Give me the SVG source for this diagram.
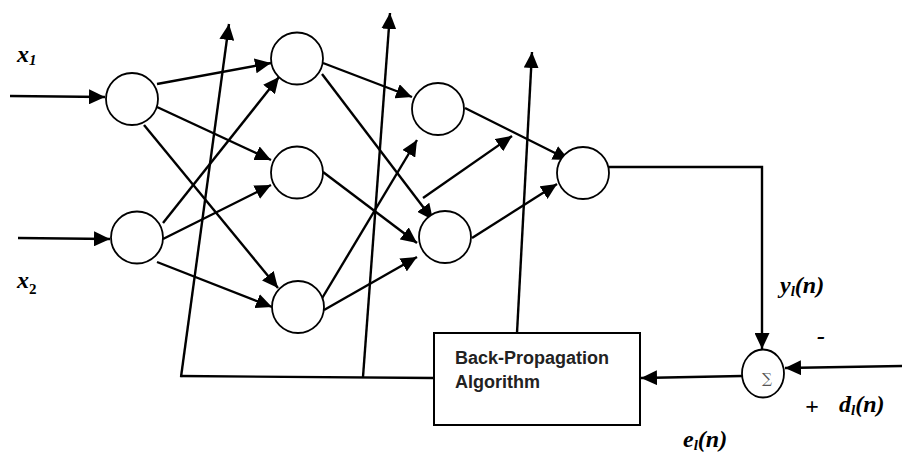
<svg xmlns="http://www.w3.org/2000/svg" width="902" height="452" viewBox="0 0 902 452">
  <style>
    .node { fill: #fff; stroke: #000; stroke-width: 1.8; }
    .edge { fill: none; stroke: #000; stroke-width: 2.4; }
    .lbl { font-family: "Liberation Serif", "Times New Roman", serif; font-weight: bold; font-style: italic; font-size: 24px; fill: #000; }
    .sub { font-size: 15px; }
    .box { fill: #fff; stroke: #000; stroke-width: 2; }
    .boxtxt { font-family: "Liberation Sans", Arial, sans-serif; font-weight: bold; font-size: 18px; fill: #222; }
  </style>
  <defs>
    <marker id="arrow" markerUnits="userSpaceOnUse" markerWidth="16" markerHeight="15" refX="16" refY="7.5" orient="auto">
      <path d="M0,0 L16,7.5 L0,15 z" fill="#000"/>
    </marker>
  </defs>

  <rect width="902" height="452" fill="#fff"/>

  <!-- connectors -->
  <g id="connectors" class="edge" marker-end="url(#arrow)">
    <!-- inputs -->
    <line x1="10" y1="96" x2="105" y2="97"/>
    <line x1="18" y1="238" x2="110" y2="239"/>
    <!-- input layer to first hidden layer -->
    <line x1="157" y1="84" x2="271" y2="63"/>
    <line x1="157" y1="107" x2="271" y2="160"/>
    <line x1="144" y1="125" x2="278" y2="288"/>
    <line x1="163" y1="223" x2="279" y2="77"/>
    <line x1="163" y1="239" x2="271" y2="185"/>
    <line x1="157" y1="262" x2="272" y2="307"/>
    <!-- first hidden layer to second hidden layer -->
    <line x1="323" y1="63" x2="412" y2="97"/>
    <line x1="322" y1="74" x2="433" y2="220"/>
    <line x1="323" y1="172" x2="417" y2="243"/>
    <line x1="321" y1="300" x2="417" y2="140"/>
    <line x1="324" y1="310" x2="417" y2="257"/>
    <!-- second hidden layer to output -->
    <line x1="465" y1="108" x2="569" y2="160"/>
    <line x1="472" y1="238" x2="557" y2="184"/>
    <line x1="423" y1="198" x2="512" y2="136"/>
    <!-- output to summing junction -->
    <path d="M609,167 H762 V349"/>
    <!-- desired response -->
    <line x1="902" y1="366" x2="785" y2="368"/>
    <!-- error to back-propagation -->
    <line x1="742" y1="376" x2="641" y2="378"/>
    <!-- weight update lines -->
    <line x1="181" y1="377" x2="229" y2="24"/>
    <line x1="363" y1="377" x2="390" y2="13"/>
    <line x1="517" y1="333" x2="532" y2="52"/>
  </g>
  <g id="feedback-bus" class="edge">
    <line x1="180" y1="376" x2="434" y2="378"/>
  </g>

  <!-- input layer -->
  <g id="in1"><circle class="node" cx="132" cy="99" r="26"/></g>
  <g id="in2"><circle class="node" cx="137" cy="237.5" r="26"/></g>
  <!-- first hidden layer -->
  <g id="h1a"><circle class="node" cx="297" cy="58.5" r="26"/></g>
  <g id="h1b"><circle class="node" cx="297" cy="172.5" r="26"/></g>
  <g id="h1c"><circle class="node" cx="298" cy="307" r="26"/></g>
  <!-- second hidden layer -->
  <g id="h2a"><circle class="node" cx="438" cy="109" r="26"/></g>
  <g id="h2b"><circle class="node" cx="445" cy="237" r="26"/></g>
  <!-- output layer -->
  <g id="out"><circle class="node" cx="583" cy="173" r="26"/></g>

  <!-- summing junction -->
  <g id="sum">
    <ellipse class="node" cx="763" cy="373.5" rx="21" ry="24"/>
    <text x="767" y="383" font-family="'DejaVu Serif', serif" font-size="14" fill="#555" text-anchor="middle">∑</text>
  </g>

  <!-- back-propagation block -->
  <g id="bp">
    <rect class="box" x="434" y="333" width="206" height="92"/>
    <text class="boxtxt" x="455" y="364">Back-Propagation</text>
    <text class="boxtxt" x="455" y="388">Algorithm</text>
  </g>

  <!-- signal labels -->
  <g id="labels">
    <text class="lbl" x="17" y="62">x<tspan class="sub" dy="3">1</tspan></text>
    <text class="lbl" x="17" y="288">x<tspan class="sub" dy="6" font-style="normal">2</tspan></text>
    <text class="lbl" x="780" y="293">y<tspan class="sub" dy="3">l</tspan><tspan dy="-3">(n)</tspan></text>
    <text class="lbl" x="839" y="412">d<tspan class="sub" dy="3">l</tspan><tspan dy="-3">(n)</tspan></text>
    <text class="lbl" x="683" y="447">e<tspan class="sub" dy="3">l</tspan><tspan dy="-3">(n)</tspan></text>
    <text class="lbl" x="817" y="344">-</text>
    <text class="lbl" x="805" y="414">+</text>
  </g>
</svg>
